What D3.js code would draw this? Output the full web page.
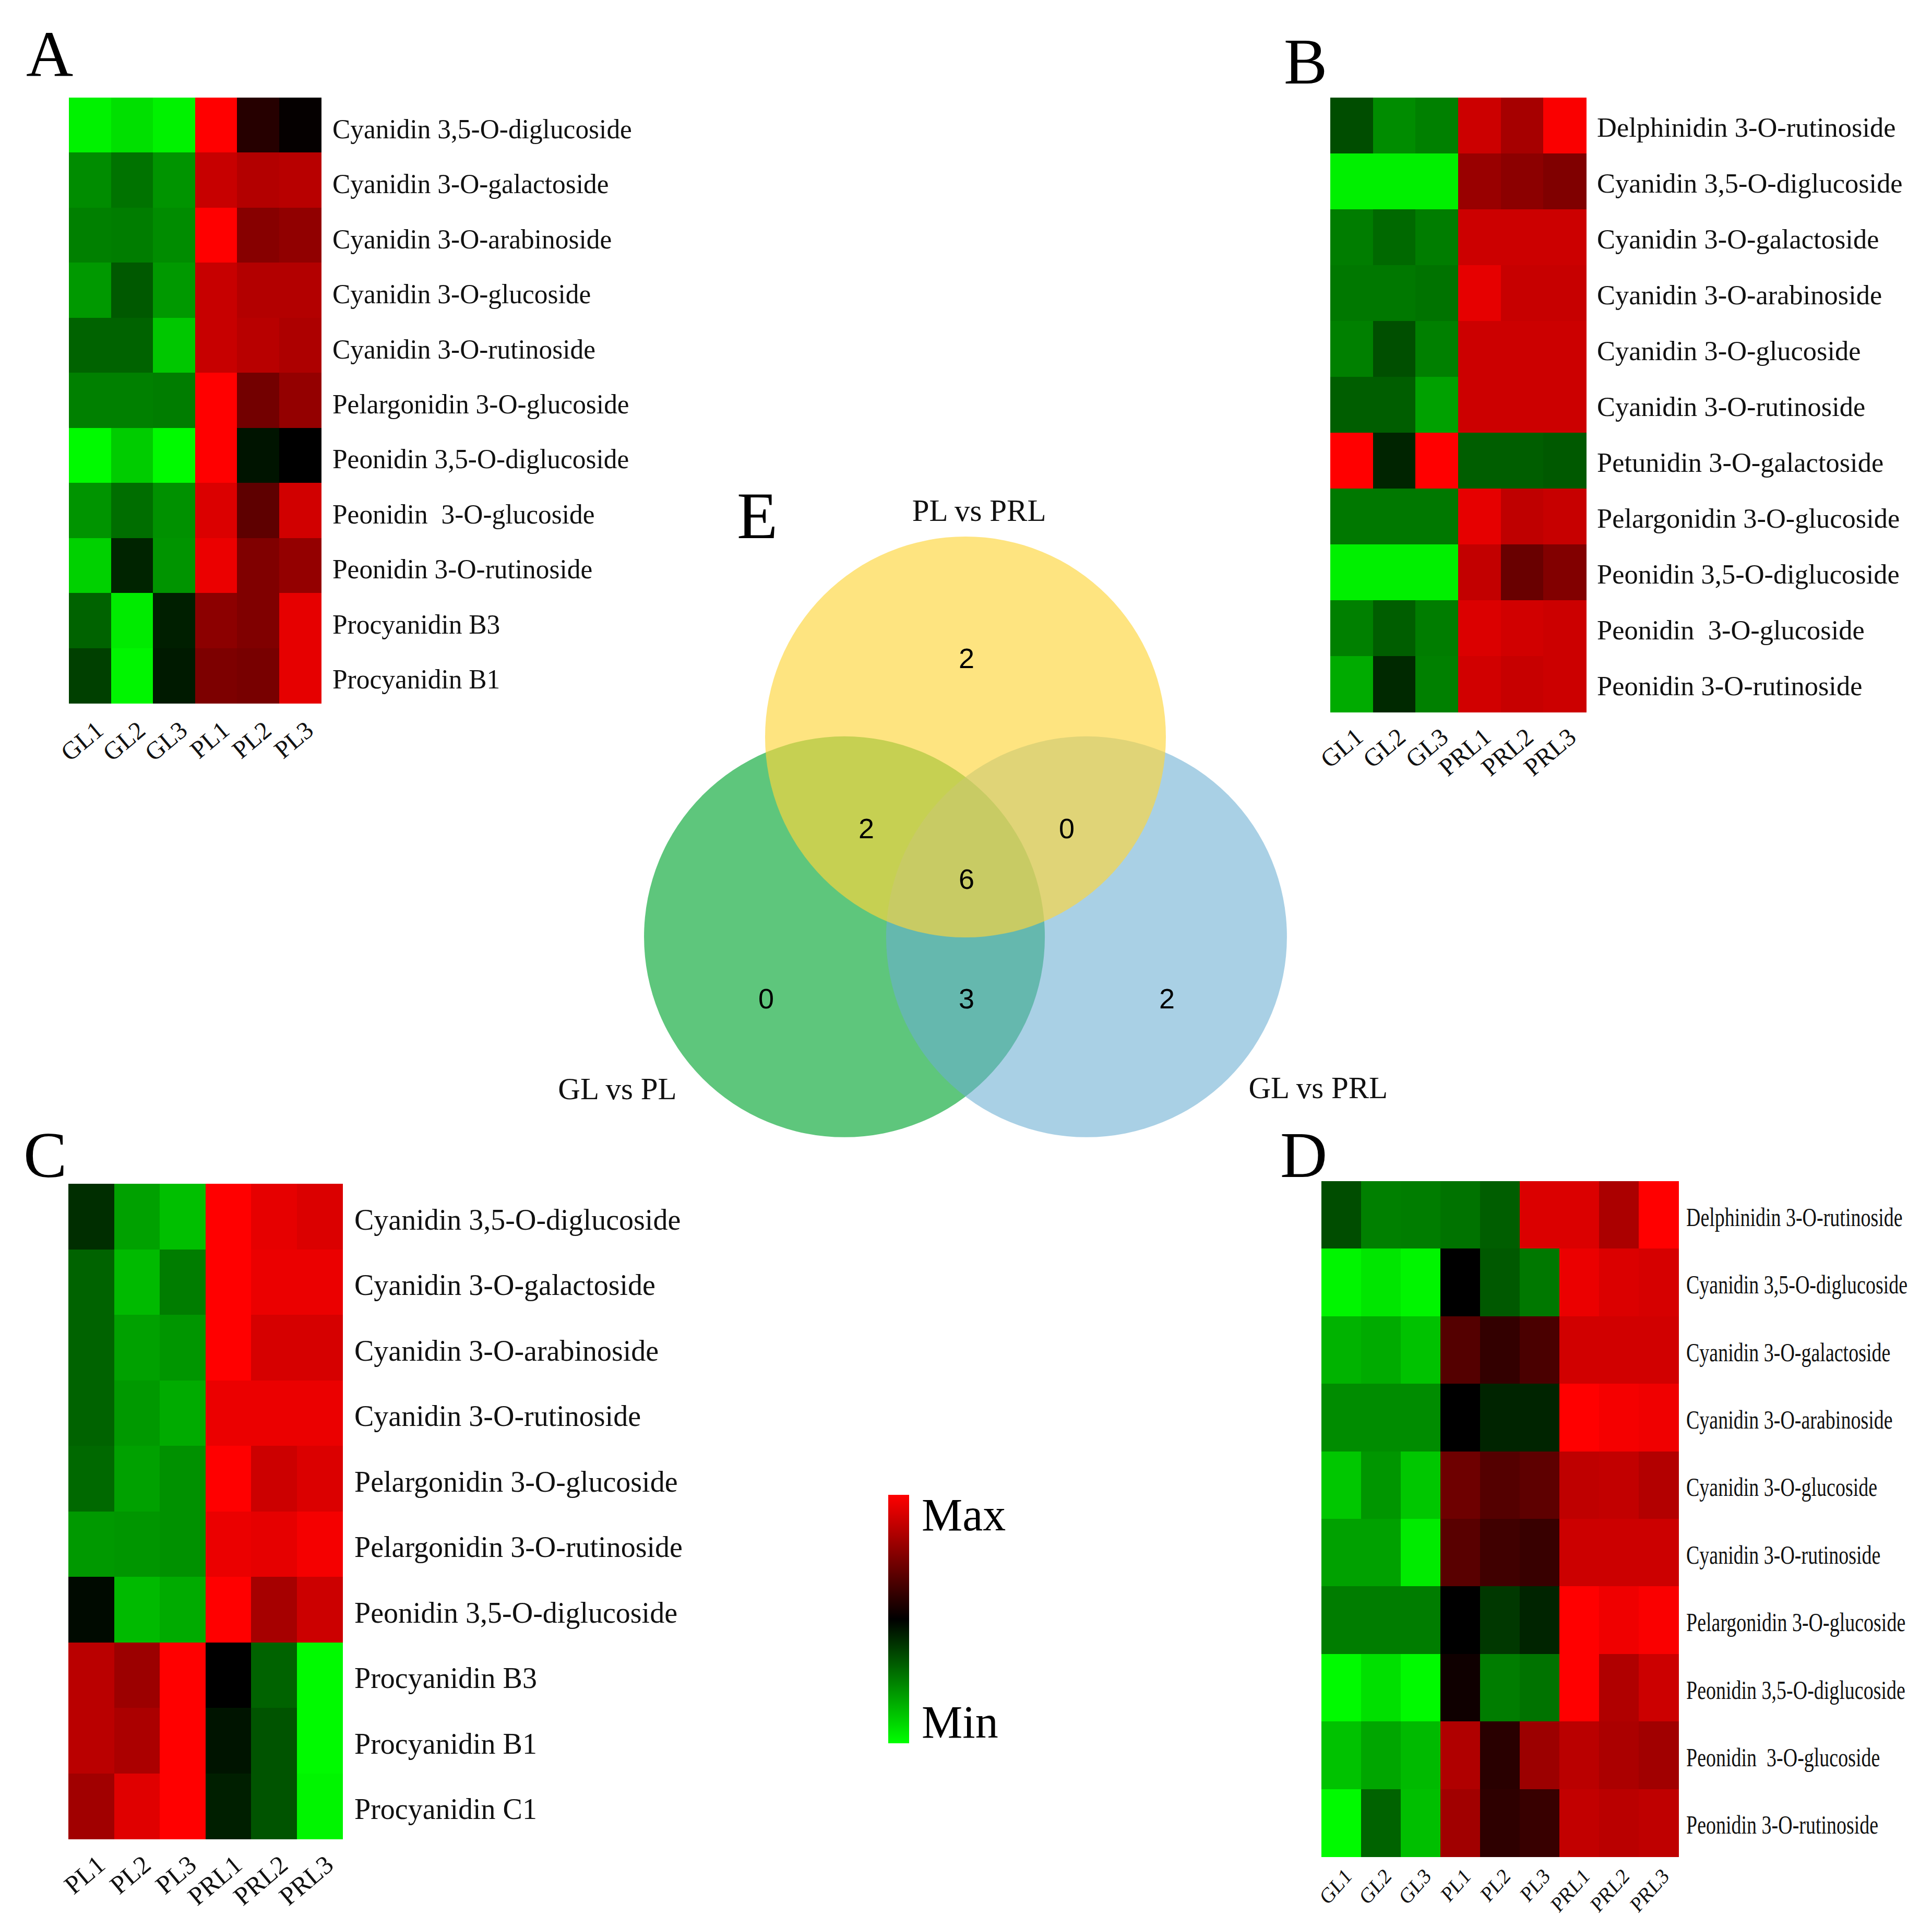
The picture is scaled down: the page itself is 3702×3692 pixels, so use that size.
<!DOCTYPE html>
<html>
<head>
<meta charset="utf-8">
<script src="https://cdn.jsdelivr.net/npm/d3@7"></script>
<style>
  html, body { margin: 0; padding: 0; background: #ffffff; }
  svg { display: block; }
</style>
</head>
<body>
<svg id="fig" width="3702" height="3692"></svg>
<script>
// ---------------- DATA ----------------
// Values are relative abundance, scaled -1 (Min, green) .. 0 (black) .. 1 (Max, red)
const aCols = ["GL1", "GL2", "GL3", "PL1", "PL2", "PL3"];
const aRows = ["Cyanidin 3,5-O-diglucoside", "Cyanidin 3-O-galactoside", "Cyanidin 3-O-arabinoside",
  "Cyanidin 3-O-glucoside", "Cyanidin 3-O-rutinoside", "Pelargonidin 3-O-glucoside",
  "Peonidin 3,5-O-diglucoside", "Peonidin  3-O-glucoside", "Peonidin 3-O-rutinoside",
  "Procyanidin B3", "Procyanidin B1"];
const aValues = [
  [-0.95, -0.88, -0.95, 1.00, 0.15, 0.02],
  [-0.55, -0.45, -0.58, 0.78, 0.70, 0.72],
  [-0.50, -0.49, -0.55, 1.00, 0.53, 0.57],
  [-0.60, -0.35, -0.60, 0.78, 0.70, 0.70],
  [-0.39, -0.39, -0.78, 0.78, 0.72, 0.68],
  [-0.50, -0.50, -0.49, 1.00, 0.45, 0.58],
  [-0.98, -0.80, -0.98, 1.00, -0.08, 0.00],
  [-0.58, -0.43, -0.57, 0.86, 0.37, 0.82],
  [-0.82, -0.14, -0.58, 0.92, 0.50, 0.58],
  [-0.39, -0.92, -0.12, 0.55, 0.50, 0.90],
  [-0.25, -0.96, -0.10, 0.49, 0.47, 0.90]
];

const bCols = ["GL1", "GL2", "GL3", "PRL1", "PRL2", "PRL3"];
const bRows = ["Delphinidin 3-O-rutinoside", "Cyanidin 3,5-O-diglucoside", "Cyanidin 3-O-galactoside",
  "Cyanidin 3-O-arabinoside", "Cyanidin 3-O-glucoside", "Cyanidin 3-O-rutinoside",
  "Petunidin 3-O-galactoside", "Pelargonidin 3-O-glucoside", "Peonidin 3,5-O-diglucoside",
  "Peonidin  3-O-glucoside", "Peonidin 3-O-rutinoside"];
const bValues = [
  [-0.30, -0.55, -0.50, 0.80, 0.65, 0.98],
  [-0.94, -0.94, -0.94, 0.60, 0.55, 0.50],
  [-0.49, -0.41, -0.49, 0.80, 0.80, 0.80],
  [-0.47, -0.47, -0.45, 0.90, 0.78, 0.78],
  [-0.50, -0.31, -0.50, 0.80, 0.80, 0.80],
  [-0.37, -0.37, -0.63, 0.80, 0.80, 0.80],
  [1.00, -0.14, 1.00, -0.37, -0.37, -0.35],
  [-0.47, -0.47, -0.47, 0.90, 0.75, 0.78],
  [-0.94, -0.94, -0.94, 0.76, 0.41, 0.51],
  [-0.50, -0.37, -0.49, 0.86, 0.82, 0.80],
  [-0.67, -0.16, -0.50, 0.82, 0.78, 0.80]
];

const cCols = ["PL1", "PL2", "PL3", "PRL1", "PRL2", "PRL3"];
const cRows = ["Cyanidin 3,5-O-diglucoside", "Cyanidin 3-O-galactoside", "Cyanidin 3-O-arabinoside",
  "Cyanidin 3-O-rutinoside", "Pelargonidin 3-O-glucoside", "Pelargonidin 3-O-rutinoside",
  "Peonidin 3,5-O-diglucoside", "Procyanidin B3", "Procyanidin B1", "Procyanidin C1"];
const cValues = [
  [-0.18, -0.63, -0.75, 1.00, 0.90, 0.86],
  [-0.39, -0.73, -0.49, 1.00, 0.92, 0.92],
  [-0.39, -0.63, -0.59, 1.00, 0.84, 0.84],
  [-0.39, -0.60, -0.67, 0.92, 0.92, 0.92],
  [-0.41, -0.63, -0.57, 1.00, 0.80, 0.86],
  [-0.60, -0.59, -0.57, 0.92, 0.90, 0.96],
  [-0.04, -0.73, -0.67, 1.00, 0.65, 0.80],
  [0.73, 0.61, 1.00, 0.00, -0.39, -0.98],
  [0.73, 0.67, 1.00, -0.08, -0.33, -0.98],
  [0.63, 0.88, 1.00, -0.12, -0.33, -0.96]
];

const dCols = ["GL1", "GL2", "GL3", "PL1", "PL2", "PL3", "PRL1", "PRL2", "PRL3"];
const dRows = ["Delphinidin 3-O-rutinoside", "Cyanidin 3,5-O-diglucoside", "Cyanidin 3-O-galactoside",
  "Cyanidin 3-O-arabinoside", "Cyanidin 3-O-glucoside", "Cyanidin 3-O-rutinoside",
  "Pelargonidin 3-O-glucoside", "Peonidin 3,5-O-diglucoside", "Peonidin  3-O-glucoside",
  "Peonidin 3-O-rutinoside"];
const dValues = [
  [-0.30, -0.50, -0.49, -0.45, -0.37, 0.86, 0.86, 0.67, 1.00],
  [-0.96, -0.90, -0.96, 0.00, -0.35, -0.47, 0.92, 0.86, 0.84],
  [-0.70, -0.67, -0.76, 0.33, 0.20, 0.29, 0.82, 0.82, 0.82],
  [-0.55, -0.55, -0.55, 0.00, -0.14, -0.14, 1.00, 0.96, 0.94],
  [-0.78, -0.59, -0.78, 0.43, 0.33, 0.37, 0.75, 0.76, 0.70],
  [-0.63, -0.63, -0.92, 0.35, 0.25, 0.22, 0.80, 0.80, 0.80],
  [-0.49, -0.49, -0.49, 0.00, -0.22, -0.14, 1.00, 0.94, 0.98],
  [-0.98, -0.88, -0.98, 0.06, -0.49, -0.45, 1.00, 0.69, 0.80],
  [-0.76, -0.65, -0.73, 0.69, 0.16, 0.61, 0.73, 0.67, 0.63],
  [-0.98, -0.39, -0.75, 0.63, 0.18, 0.22, 0.76, 0.73, 0.75]
];

// Venn diagram (E)
const vennSets = ["PL vs PRL", "GL vs PL", "GL vs PRL"];
const vennRegions = ["PL vs PRL", "PL vs PRL & GL vs PL", "PL vs PRL & GL vs PRL", "all",
  "GL vs PL", "GL vs PL & GL vs PRL", "GL vs PRL"];
const vennCounts = [2, 2, 0, 6, 0, 3, 2];

const legendLabels = ["Max", "Min"];

// ---------------- STYLE / LAYOUT ----------------
const SERIF = "'Liberation Serif', 'Times New Roman', Times, serif";
const SANS = "'Liberation Sans', Arial, Helvetica, sans-serif";
const svg = d3.select("#fig");
svg.append("rect").attr("width", 3702).attr("height", 3692).attr("fill", "#ffffff");

const color = d3.scaleLinear().domain([-1, 0, 1]).range(["#00ff00", "#000000", "#ff0000"]).clamp(true);

function heatmap(rows, cols, values, L) {
  const g = svg.append("g");
  const x = d3.scaleBand().domain(cols).range([L.x0, L.x1]);
  const y = d3.scaleBand().domain(rows).range([L.y0, L.y1]);
  const cells = [];
  values.forEach((r, i) => r.forEach((v, j) => cells.push({ row: rows[i], col: cols[j], v })));
  g.selectAll("rect.cell").data(cells).enter().append("rect")
    .attr("class", "cell")
    .attr("x", d => x(d.col)).attr("y", d => y(d.row))
    .attr("width", x.bandwidth() + 0.6).attr("height", y.bandwidth() + 0.6)
    .attr("fill", d => color(d.v))
    .attr("shape-rendering", "crispEdges");
  // row labels
  g.selectAll("text.row").data(rows).enter().append("text")
    .attr("class", "row")
    .attr("transform", d => `translate(${L.labelX},${y(d) + y.bandwidth() / 2 + L.labelDy}) scale(${L.labelSX},1)`)
    .attr("font-family", SERIF).attr("font-size", L.labelFont).attr("fill", "#111")
    .style("white-space", "pre").attr("xml:space", "preserve")
    .text(d => d);
  // column labels
  g.selectAll("text.col").data(cols).enter().append("text")
    .attr("class", "col")
    .attr("transform", d => `translate(${x(d) + x.bandwidth() / 2 + L.colDx},${L.y1 + L.colDy}) scale(${L.colSX},1) rotate(${L.colRot})`)
    .attr("text-anchor", "end")
    .attr("font-family", SERIF).attr("font-size", L.colFont).attr("fill", "#111")
    .text(d => d);
  // panel letter
  svg.append("text").attr("x", L.letterX).attr("y", L.letterY)
    .attr("font-family", SERIF).attr("font-size", 125).attr("fill", "#000")
    .text(L.letter);
}

heatmap(aRows, aCols, aValues, {
  x0: 132, x1: 615, y0: 187, y1: 1347,
  labelX: 637, labelDy: 25, labelFont: 53, labelSX: 0.97,
  colDx: 29, colDy: 57, colFont: 48, colSX: 1, colRot: -40,
  letter: "A", letterX: 50, letterY: 146
});
heatmap(bRows, bCols, bValues, {
  x0: 2549, x1: 3039, y0: 187, y1: 1364,
  labelX: 3060, labelDy: 21, labelFont: 53, labelSX: 0.99,
  colDx: 25, colDy: 53, colFont: 48, colSX: 1, colRot: -40,
  letter: "B", letterX: 2460, letterY: 160
});
heatmap(cRows, cCols, cValues, {
  x0: 131, x1: 656, y0: 2268, y1: 3523,
  labelX: 679, labelDy: 25, labelFont: 56, labelSX: 1,
  colDx: 30, colDy: 55, colFont: 50, colSX: 1, colRot: -40,
  letter: "C", letterX: 45, letterY: 2255
});
heatmap(dRows, dCols, dValues, {
  x0: 2532, x1: 3216, y0: 2263, y1: 3557,
  labelX: 3231, labelDy: 21, labelFont: 50, labelSX: 0.76,
  colDx: 22, colDy: 40, colFont: 42, colSX: 0.88, colRot: -45,
  letter: "D", letterX: 2453, letterY: 2255
});

// ---------------- VENN (E) ----------------
const vx = d3.scaleLinear().domain([0, 1]).range([1850, 1850 + 384]);
const vy = d3.scaleLinear().domain([0, 1]).range([1412, 1412 + 384]);
const vr = 384;
const circleLayout = [
  { set: vennSets[1], cx: -0.604, cy: 0.997, fill: "#5ec67c", op: 1 },
  { set: vennSets[2], cx: 0.604, cy: 0.997, fill: "#6baed2", op: 0.58 },
  { set: vennSets[0], cx: 0, cy: 0, fill: "#fed63c", op: 0.65 }
];
const ve = svg.append("g");
ve.selectAll("circle").data(circleLayout).enter().append("circle")
  .attr("cx", d => vx(d.cx)).attr("cy", d => vy(d.cy)).attr("r", vr)
  .attr("fill", d => d.fill).attr("fill-opacity", d => d.op);

const regionPos = [[0.005, -0.393], [-0.495, 0.456], [0.505, 0.456], [0.005, 0.708],
  [-0.995, 1.305], [0.005, 1.305], [1.005, 1.305]];
ve.selectAll("text.count").data(vennCounts).enter().append("text")
  .attr("class", "count")
  .attr("x", (d, i) => vx(regionPos[i][0])).attr("y", (d, i) => vy(regionPos[i][1]) + 19)
  .attr("text-anchor", "middle")
  .attr("font-family", SANS).attr("font-size", 54).attr("fill", "#000")
  .text(d => d);

const setLabelPos = [[0.068, -1.078], [-1.737, 1.807], [1.76, 1.802]];
ve.selectAll("text.setlab").data(vennSets).enter().append("text")
  .attr("class", "setlab")
  .attr("x", (d, i) => vx(setLabelPos[i][0])).attr("y", (d, i) => vy(setLabelPos[i][1]))
  .attr("text-anchor", "middle")
  .attr("font-family", SERIF).attr("font-size", 59).attr("fill", "#111")
  .text(d => d);

svg.append("text").attr("x", 1412).attr("y", 1031)
  .attr("font-family", SERIF).attr("font-size", 128).attr("fill", "#000").text("E");

// ---------------- LEGEND ----------------
const defs = svg.append("defs");
const grad = defs.append("linearGradient").attr("id", "lg")
  .attr("x1", 0).attr("y1", 0).attr("x2", 0).attr("y2", 1);
[[0, 1], [0.5, 0], [1, -1]].forEach(([o, v]) =>
  grad.append("stop").attr("offset", o).attr("stop-color", color(v)));
const ly = d3.scaleLinear().domain([1, -1]).range([2864, 3340]);
svg.append("rect").attr("x", 1702).attr("y", ly(1)).attr("width", 40)
  .attr("height", ly(-1) - ly(1)).attr("fill", "url(#lg)");
svg.selectAll("text.leg").data(legendLabels).enter().append("text")
  .attr("class", "leg")
  .attr("x", 1766)
  .attr("y", (d, i) => i === 0 ? ly(1) + 68 : ly(-1) - 11)
  .attr("font-family", SERIF).attr("font-size", 88).attr("fill", "#000")
  .text(d => d);
</script>
</body>
</html>
